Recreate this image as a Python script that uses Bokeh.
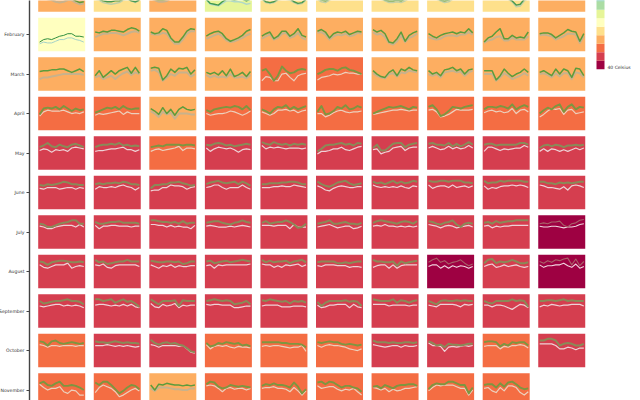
from bokeh.plotting import figure
from bokeh.embed import file_html
from bokeh.resources import INLINE
from bokeh.models import ColumnDataSource, LinearColorMapper, FixedTicker, Range1d
from bokeh.core.properties import value

months = ["January","February","March","April","May","June","July","August","September","October","November"]
palette = ["#5e4fa2","#3288bd","#66c2a5","#abdda4","#e6f598","#ffffbf","#fee08b","#fdae61","#f46d43","#d53e4f","#9e0142"]
legend_label = "40 Celsius"

jan_mean = [26,22,26,14,22,22,22,22,22,26]
feb_mean = [18,26,26,26,26,26,26,26,26,26]
mar_mean = [26,26,26,26,30,30,26,26,26,26]
apr_mean = [30,30,26,30,30,30,30,30,30,30]
may_mean = [34,34,30,34,34,34,34,34,34,34]
jun_mean = [34,34,34,34,34,34,34,34,34,34]
jul_mean = [34,34,34,34,34,34,34,34,34,38]
aug_mean = [34,34,34,34,34,34,34,38,34,38]
sep_mean = [34,34,34,34,34,34,34,34,34,34]
oct_mean = [30,34,34,30,30,30,34,34,30,34]
nov_mean = [30,30,26,30,30,30,30,30,30]

jan_hi = [[16,17,16,15,15,16,16,15,16,13,11,12],[17,15,13,12,12,13,13,15,16,13,12,14],[17,15,14,14,15,17,17,18,18,18,17,17],[15,10,9,8,12,15,15,14,15,15,13,15],[16,12,11,12,15,16,16,16,12,10,11,15],[16,14,13,15,17,17,17,17,17,17,17,17],[18,17,16,14,13,13,14,13,15,17,17,18],[17,17,16,14,13,14,16,17,17,17,17,17],[17,17,17,17,17,17,16,13,8,9,15,17],[20,21,20,20,21,22,21,20,20,21,20,20]]
jan_lo = [[15,16,15,14,12,11,12,14,14,11,9,10],[15,14,11,10,9,10,11,14,15,13,11,14],[16,14,12,12,13,16,16,16,16,16,16,16],[14,9,8,7,10,13,13,12,12,11,9,10],[15,11,10,11,14,15,15,14,11,9,10,14],[15,12,11,14,16,16,16,16,16,16,16,16],[17,16,15,13,11,11,12,11,13,16,16,17],[16,16,15,13,11,12,15,16,16,16,16,16],[16,16,16,16,16,16,15,12,6,7,13,16],[18,19,18,18,19,20,19,18,18,19,18,18]]
feb_hi = [[11,14,15,14,16,18,19,21,21,18,18,17],[23,22,24,23,25,25,24,23,26,28,27,24],[23,21,22,27,25,16,11,11,17,24,27,26],[18,21,23,24,21,15,12,14,16,19,24,26],[18,21,23,15,18,24,24,18,21,27,19,17],[24,26,23,16,21,23,22,24,20,22,24,23],[26,23,25,21,11,10,15,23,12,19,22,24],[21,18,16,19,21,22,23,21,23,22,27,22],[11,16,18,23,27,15,15,19,16,17,16,23],[21,22,22,20,16,19,22,26,24,23,12,21]]
feb_lo = [[9,11,10,10,12,14,14,16,16,14,13,11],[17,19,21,21,22,22,21,19,21,23,24,22],[21,20,20,22,21,14,9,9,14,21,24,24],[15,17,19,21,18,13,11,12,14,16,19,21],[15,18,20,14,16,21,22,16,18,22,16,14],[22,23,20,14,18,20,19,21,18,19,22,21],[23,20,21,17,10,8,12,19,11,16,18,21],[17,15,14,15,18,19,19,18,20,20,23,20],[10,13,14,17,18,13,13,16,14,14,14,18],[19,20,19,18,14,16,18,21,21,20,10,18]]
mar_hi = [[23,24,24,25,25,26,26,24,22,24,26,23],[18,24,16,20,24,20,24,26,28,21,28,21],[27,28,27,13,18,26,22,27,26,28,20,25],[22,20,22,19,24,18,26,17,19,22,17,23],[24,26,20,12,18,29,24,21,22,25,26,25],[20,22,25,26,26,24,27,28,25,24,22,20],[24,20,17,16,22,25,18,26,24,28,25,24],[24,20,22,18,25,26,28,24,26,20,25,26],[24,24,24,13,18,26,21,17,20,22,26,22],[22,24,21,18,26,20,26,24,16,27,26,18]]
mar_lo = [[14,16,16,17,18,19,20,20,20,20,20,19],[16,18,14,16,18,14,18,21,23,19,22,20],[24,25,22,12,16,20,18,22,22,22,17,20],[19,16,18,16,17,16,20,16,16,17,15,19],[12,17,16,12,12,20,21,16,12,18,20,21],[13,16,17,18,20,19,20,22,21,21,20,20],[21,18,16,15,20,21,17,22,21,24,23,22],[20,18,20,16,22,23,24,22,23,18,22,24],[20,20,20,12,16,21,18,14,16,18,21,18],[20,21,19,16,21,17,21,21,14,22,21,16]]
apr_hi = [[19,26,27,26,28,25,29,26,23,26,24,25],[21,23,25,27,26,28,25,29,26,25,26,26],[26,23,19,27,20,25,18,25,28,25,24,25],[24,22,25,26,27,28,27,29,28,25,29,24],[25,23,20,25,28,27,30,25,28,25,27,29],[22,29,19,20,23,28,26,30,25,26,29,27],[20,22,24,26,28,27,28,29,27,25,28,27],[28,30,25,17,19,23,28,27,26,28,29,30],[25,28,28,27,29,28,26,31,25,28,30,28],[20,24,27,25,29,31,22,28,31,25,28,27]]
apr_lo = [[17,22,24,23,23,23,24,22,20,21,20,22],[18,20,19,20,21,22,23,19,22,20,20,20],[23,20,16,22,19,21,14,20,20,20,19,19],[20,18,19,20,20,21,23,22,20,18,20,23],[22,20,18,20,24,24,25,23,24,21,23,24],[20,20,16,18,21,23,24,22,21,22,22,23],[19,20,21,22,23,24,24,25,24,23,24,24],[24,25,22,16,17,19,22,25,24,24,24,25],[21,23,24,22,23,21,22,26,20,24,25,22],[16,19,23,26,25,26,19,24,25,20,21,22]]
may_hi = [[27,29,32,28,27,30,28,27,30,31,29,27],[27,29,30,30,31,30,32,29,30,28,29,28],[27,28,29,28,30,30,30,30,29,30,30,29],[30,29,31,32,31,29,30,28,29,30,31,30],[33,31,30,33,31,30,31,29,31,30,31,30],[22,25,29,30,30,31,32,30,31,29,32,31],[26,30,23,23,27,31,32,32,27,30,31,32],[31,32,30,30,29,32,28,31,28,30,33,30],[30,31,31,29,30,30,30,30,30,32,32,30],[26,29,30,28,30,29,27,29,29,30,29,30]]
may_lo = [[23,25,24,21,24,23,24,22,26,27,26,25],[22,23,23,24,25,25,26,27,24,24,22,24],[22,24,25,23,24,25,26,28,23,26,26,25],[26,22,25,27,26,25,26,24,21,24,25,24],[29,25,27,26,27,26,25,26,26,26,25,26],[19,22,22,23,25,25,27,24,23,25,27,28],[24,25,19,21,22,26,27,28,23,26,27,27],[26,28,26,24,25,28,25,27,25,26,29,26],[22,27,27,25,23,25,24,25,26,26,29,27],[22,25,22,25,24,22,24,22,24,26,24,26]]
jun_hi = [[29,28,30,29,30,31,33,32,30,30,29,29],[30,31,30,31,31,32,31,33,32,30,30,29],[25,29,29,30,30,32,32,33,31,30,28,29],[30,32,33,34,32,31,32,33,30,33,31,28],[30,30,31,31,31,32,32,33,33,32,30,30],[33,30,28,27,29,32,33,34,31,29,30,31],[33,31,32,30,32,34,31,33,31,32,34,33],[34,33,33,34,34,33,34,34,34,32,32,31],[34,31,32,32,34,33,34,34,34,34,33,33],[33,33,31,31,30,32,31,32,31,32,33,33]]
jun_lo = [[25,24,26,26,26,24,25,26,26,24,26,25],[24,27,26,26,27,26,28,29,27,26,23,26],[22,23,23,26,26,29,28,28,27,24,26,27],[26,27,29,29,26,24,26,26,26,29,26,24],[26,26,26,27,27,28,27,27,29,28,27,26],[28,26,23,22,25,27,28,27,26,26,27,27],[29,27,26,27,26,27,26,28,26,25,28,27],[29,25,27,28,28,26,29,26,27,28,26,28],[28,24,26,25,27,28,28,29,28,29,28,26],[29,28,26,26,25,24,27,23,28,29,28,26]]
jul_hi = [[30,29,26,26,28,30,31,32,34,34,30,30],[32,30,30,31,32,32,33,31,31,31,31,30],[34,34,33,32,32,31,32,30,33,30,31,31],[31,32,33,33,31,30,29,31,32,34,32,31],[31,33,30,31,32,32,34,32,29,25,26,30],[30,31,32,34,30,30,31,32,30,30,29,31],[31,33,34,33,32,31,30,32,33,32,30,33],[33,32,30,29,31,32,34,29,26,30,31,30],[31,32,30,33,31,32,33,33,34,34,34,34],[30,31,30,32,32,33,28,26,30,31,34,35]]
jul_lo = [[27,26,24,24,26,27,28,28,28,26,29,26],[28,24,27,27,28,28,27,27,27,26,27,27],[29,29,28,28,26,28,26,27,26,26,24,28],[27,28,27,26,26,26,27,26,27,28,27,26],[28,28,28,27,28,28,28,24,29,26,26,26],[26,27,28,29,27,25,26,27,27,24,25,27],[27,28,27,29,27,27,26,27,26,27,26,27],[29,28,27,25,27,28,27,25,26,27,28,26],[27,28,25,27,26,27,27,28,28,28,28,28],[27,26,26,27,27,26,25,26,26,27,29,30]]
aug_hi = [[32,31,28,31,32,33,33,32,31,31,32,31],[34,31,32,29,30,31,32,32,34,32,32,32],[33,32,31,31,32,32,31,32,29,30,32,32],[32,33,30,31,32,33,31,32,33,34,33,32],[34,31,33,31,32,32,33,30,32,33,34,31],[31,32,32,32,32,30,30,31,30,31,32,32],[34,32,32,31,31,32,27,32,30,31,32,33],[31,34,36,31,33,29,31,32,34,30,27,29],[30,34,35,30,32,31,32,34,32,30,30,31],[32,30,33,31,34,33,35,36,28,35,27,32]]
aug_lo = [[28,25,24,26,28,28,28,30,24,26,27,26],[28,27,29,25,24,27,28,28,28,28,28,26],[28,26,24,27,26,28,25,27,26,26,27,27],[27,28,24,28,27,28,28,28,28,28,28,29],[29,28,28,25,27,25,28,27,28,29,26,28],[27,26,28,28,28,27,27,27,25,26,26,25],[25,27,28,28,24,28,24,27,28,28,28,28],[26,28,28,24,27,24,27,25,27,26,24,26],[26,28,29,25,26,28,26,27,28,26,25,26],[28,25,27,27,28,28,30,27,25,29,24,26]]
sep_hi = [[32,29,30,31,32,32,33,34,32,32,31,28],[34,34,32,33,34,30,32,34,31,32,29,25],[34,31,28,32,32,32,33,26,33,32,32,32],[32,33,34,33,32,33,32,28,29,30,32,28],[33,32,34,33,32,31,32,29,32,31,32,30],[31,26,30,32,32,32,32,33,31,32,31,26],[34,33,32,32,32,34,30,33,32,30,32,33],[32,30,28,32,33,32,32,33,32,33,32,32],[32,30,29,32,32,32,32,34,32,33,32,25],[32,32,33,33,32,33,34,32,33,32,32,32]]
sep_lo = [[26,25,26,27,28,28,26,27,26,27,26,24],[27,28,28,27,26,27,26,28,26,28,25,24],[29,25,24,28,26,27,29,24,27,26,27,27],[28,27,28,28,27,27,27,24,24,25,26,26],[26,27,27,27,27,25,25,25,26,26,26,25],[27,24,25,27,27,28,28,28,24,28,25,24],[28,28,28,28,26,27,27,27,27,26,27,27],[27,26,25,28,28,28,28,27,25,28,27,28],[27,27,25,27,27,26,24,22,25,28,27,24],[25,27,26,28,27,26,27,27,28,28,28,26]]
oct_hi = [[31,30,26,31,32,29,28,29,30,29,28,29],[31,30,30,29,30,31,30,29,30,29,29,28],[33,29,27,29,30,28,29,27,26,23,19,18],[29,25,26,29,28,30,29,28,29,26,27,25],[30,30,30,30,30,29,29,28,28,28,27,24],[30,29,30,31,30,30,28,27,28,27,26,27],[32,30,30,30,29,30,29,29,30,30,29,30],[31,29,26,27,24,28,27,27,26,27,28,28],[30,31,31,30,25,28,26,30,29,30,30,26],[32,32,34,34,32,26,28,29,28,26,26,28]]
oct_lo = [[27,26,24,26,26,25,26,26,26,25,26,26],[26,26,26,27,26,25,26,25,26,25,24,25],[27,26,24,26,26,26,26,25,26,22,18,17],[27,22,25,26,25,26,24,23,25,24,24,23],[25,26,25,26,26,25,24,23,24,24,26,19],[26,24,26,27,26,26,25,24,22,21,20,22],[27,26,25,24,25,26,26,24,26,25,25,26],[29,26,26,25,19,24,25,24,25,26,25,26],[25,26,26,26,22,25,24,26,26,27,26,23],[28,28,28,28,26,22,22,24,23,21,23,23]]
nov_hi = [[28,30,26,25,28,30,25,25,26,25,23,20],[29,26,30,30,26,21,16,19,23,26,25,21],[26,20,27,26,28,27,26,26,25,26,25,26],[27,30,29,24,22,23,26,25,24,25,24,23],[25,27,26,28,26,26,25,23,29,24,16,21],[29,30,27,30,29,26,23,25,25,23,22,18],[24,25,22,26,24,22,25,26,26,27,27,25],[21,26,28,27,27,30,30,28,26,26,16,23],[26,27,27,23,28,24,29,30,27,23,21,22]]
nov_lo = [[27,23,20,22,22,24,18,16,20,19,14,14],[17,23,26,24,22,18,12,14,17,20,22,19],[22,19,23,23,23,22,21,21,20,20,22,22],[25,26,25,22,18,22,23,21,22,22,20,22],[22,23,23,24,22,22,21,18,23,19,14,19],[25,22,23,24,24,21,19,21,20,22,18,14],[23,22,20,22,18,21,19,20,22,22,23,24],[19,23,26,25,26,26,26,24,22,22,14,20],[22,23,19,17,23,19,25,25,23,17,14,18]]

means = [jan_mean,feb_mean,mar_mean,apr_mean,may_mean,jun_mean,jul_mean,aug_mean,sep_mean,oct_mean,nov_mean]
highs = [jan_hi,feb_hi,mar_hi,apr_hi,may_hi,jun_hi,jul_hi,aug_hi,sep_hi,oct_hi,nov_hi]
lows = [jan_lo,feb_lo,mar_lo,apr_lo,may_lo,jun_lo,jul_lo,aug_lo,sep_lo,oct_lo,nov_lo]

# layout, in page pixels; the axis panel needs PAD pixels more than the page has on the left
PITCH_X, PITCH_Y = 55.56, 39.5
CELL_W, CELL_H = 47.0, 33.5
X0, Y0 = 37.7, -22.2
W, H = 640, 400
LEFT = 29
PAD = 4
TMAX = 40.0

cw = CELL_W / PITCH_X
ch = CELL_H / PITCH_Y
xr = Range1d((LEFT - X0) / PITCH_X, (W - X0) / PITCH_X)
yr = Range1d((H - Y0) / PITCH_Y, (0 - Y0) / PITCH_Y)

p = figure(width=W + PAD, height=H, x_range=xr, y_range=yr, output_backend="svg", toolbar_location=None,
           min_border_left=LEFT + PAD, min_border_right=0, min_border_top=0, min_border_bottom=0,
           background_fill_color="white", border_fill_color="white", outline_line_color=None)
p.styles = {"transform": "translateX(-%dpx)" % PAD}
p.grid.visible = False
p.xaxis.visible = False

ya = p.yaxis[0]
ya.ticker = FixedTicker(ticks=[r + ch / 2 for r in range(len(months))])
ya.major_label_overrides = {r + ch / 2: m for r, m in enumerate(months)}
ya.major_label_text_font = "DejaVu Sans"
ya.major_label_text_font_size = "4.6px"
ya.major_label_text_color = "#333333"
ya.major_label_standoff = 2
ya.major_tick_in = 0
ya.major_tick_out = 3
ya.minor_tick_line_color = None
ya.major_tick_line_color = "#444444"
ya.major_tick_line_width = 1
ya.axis_line_color = "#444444"
ya.axis_line_width = 1.4

mapper = LinearColorMapper(palette=palette, low=-4, high=40)

upper_col = {14: "#3f9a50", 18: "#2f8f3f", 22: "#4a9a50", 26: "#5c9c3c", 30: "#7d9640", 34: "#8a8a58", 38: "#a86068"}
lower_col = {14: "#b0d8c8", 18: "#a5d2c8", 22: "#c0cfa8", 26: "#c8b28c", 30: "#ecd0bc", 34: "#eed2d6", 38: "#f0d4de"}
upper_w = {14: 1.4, 18: 1.0, 22: 1.4, 26: 1.5, 30: 1.9, 34: 2.0, 38: 1.1}
lower_w = {14: 1.4, 18: 1.0, 22: 1.5, 26: 2.0, 30: 1.2, 34: 1.2, 38: 1.1}

cx, cy, ct = [], [], []
xs_hi, ys_hi, col_hi, w_hi = [], [], [], []
xs_lo, ys_lo, col_lo, w_lo = [], [], [], []
for r, (mrow, hrow, lrow) in enumerate(zip(means, highs, lows)):
    for c, (m, hi, lo) in enumerate(zip(mrow, hrow, lrow)):
        cx.append(c); cy.append(r); ct.append(m)
        n = len(hi)
        fx = [c + cw * (0.03 + 0.94 * i / (n - 1)) for i in range(n)]
        xs_lo.append(fx); ys_lo.append([r + ch * (1 - t / TMAX) for t in lo])
        col_lo.append(lower_col[m]); w_lo.append(lower_w[m])
        xs_hi.append(fx); ys_hi.append([r + ch * (1 - t / TMAX) for t in hi])
        col_hi.append(upper_col[m]); w_hi.append(upper_w[m])

cells = ColumnDataSource(dict(l=cx, r=[v + cw for v in cx], t=cy, b=[v + ch for v in cy], temp=ct))
p.quad(left="l", right="r", top="t", bottom="b", source=cells,
       fill_color={"field": "temp", "transform": mapper}, line_color=None)
p.multi_line(xs_lo, ys_lo, line_color=col_lo, line_width=w_lo, line_join="round")
p.multi_line(xs_hi, ys_hi, line_color=col_hi, line_width=w_hi, line_join="round")

# colour legend, its last step ends just above "40 Celsius"
LX0, LX1, LEND, LSTEP = 596.0, 604.0, 68.7, 8.5
lt = [38, 34, 30, 26, 22, 18, 14, 10, 6]
leg = ColumnDataSource(dict(
    l=[(LX0 - X0) / PITCH_X] * len(lt), r=[(LX1 - X0) / PITCH_X] * len(lt),
    b=[(LEND - i * LSTEP - Y0) / PITCH_Y for i in range(len(lt))],
    t=[(LEND - (i + 1) * LSTEP - Y0) / PITCH_Y for i in range(len(lt))],
    temp=lt))
p.quad(left="l", right="r", top="t", bottom="b", source=leg,
       fill_color={"field": "temp", "transform": mapper}, line_color=None)
p.text(x=[(607 - X0) / PITCH_X], y=[(67 - Y0) / PITCH_Y], text=[legend_label],
       text_font=value("DejaVu Sans"), text_font_size="4.5px", text_color="#333333",
       text_baseline="middle", text_align="left")

html = file_html(p, INLINE)
html = html.replace("<body>", '<body style="margin:0">', 1)
open("out.html", "w").write(html)
